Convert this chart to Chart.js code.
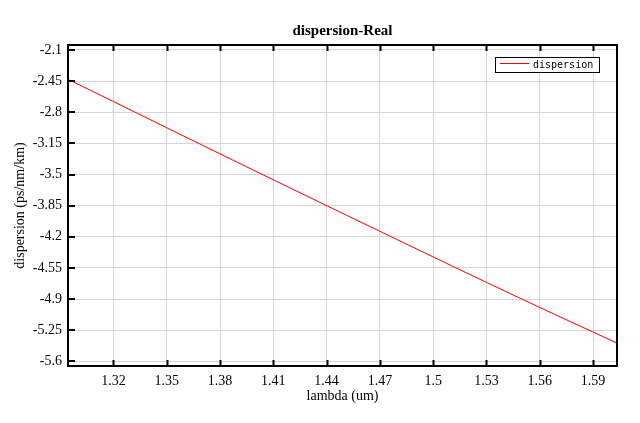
<!DOCTYPE html>
<html>
<head>
<meta charset="utf-8">
<script src="https://cdn.jsdelivr.net/npm/chart.js@4"></script>
<style>
  body { margin: 0; background: #fff; }
  #wrap { width: 640px; height: 423px; }
</style>
</head>
<body>
<div id="wrap"><canvas id="chart" width="640" height="423"></canvas></div>
<script>
// Values
const lambda = [1.2944, 1.32, 1.35, 1.38, 1.41, 1.44, 1.47, 1.50, 1.53, 1.56, 1.59, 1.6035];
const dispersion = [-2.43, -2.68, -2.975, -3.268, -3.56, -3.85, -4.139, -4.427, -4.713, -4.995, -5.272, -5.395];

const xTickLabels = ['1.32', '1.35', '1.38', '1.41', '1.44', '1.47', '1.5', '1.53', '1.56', '1.59'];
const yTickLabels = ['-2.1', '-2.45', '-2.8', '-3.15', '-3.5', '-3.85', '-4.2', '-4.55', '-4.9', '-5.25', '-5.6'];

const serif = '"Liberation Serif", "Times New Roman", serif';
const gridColor = '#d6d6d6';

// frame, inward ticks, legend box and title
const framePlugin = {
    id: 'frame',
    afterDraw(chart) {
        const ctx = chart.ctx;
        const { left, right, top, bottom } = chart.chartArea;
        const xs = chart.scales.x, ys = chart.scales.y;
        ctx.save();
        ctx.strokeStyle = '#000';
        ctx.lineWidth = 2;
        ctx.beginPath();
        xs.ticks.forEach(t => {
            const px = Math.round(xs.getPixelForValue(t.value)) + 0.5;
            ctx.moveTo(px, bottom); ctx.lineTo(px, bottom - 6);
            ctx.moveTo(px, top); ctx.lineTo(px, top + 6);
        });
        ys.ticks.forEach(t => {
            const py = Math.round(ys.getPixelForValue(t.value));
            ctx.moveTo(left, py); ctx.lineTo(left + 7, py);
        });
        ctx.stroke();
        ctx.strokeRect(left, top, right - left, bottom - top);

        // legend
        const ds = chart.data.datasets[0];
        const bx = 495.5, by = 57.5, bw = 104, bh = 15;
        ctx.fillStyle = '#fff';
        ctx.fillRect(bx, by, bw, bh);
        ctx.lineWidth = 1;
        ctx.strokeRect(bx, by, bw, bh);
        ctx.strokeStyle = ds.borderColor;
        ctx.beginPath();
        ctx.moveTo(500, 63.5); ctx.lineTo(529, 63.5);
        ctx.stroke();
        ctx.fillStyle = '#000';
        ctx.font = '10px "DejaVu Sans Mono", "Liberation Mono", monospace';
        ctx.textAlign = 'left';
        ctx.textBaseline = 'middle';
        ctx.fillText(ds.label, 533, 65);

        // title
        ctx.font = 'bold 15px ' + serif;
        ctx.textAlign = 'center';
        ctx.textBaseline = 'alphabetic';
        ctx.fillText('dispersion-Real', (left + right) / 2, 35);
        ctx.restore();
    }
};

new Chart(document.getElementById('chart'), {
    type: 'line',
    data: {
        datasets: [{
            label: 'dispersion',
            data: lambda.map((x, i) => ({ x: x, y: dispersion[i] })),
            borderColor: '#ff0000',
            borderWidth: 1,
            pointRadius: 0,
            cubicInterpolationMode: 'monotone',
            fill: false
        }]
    },
    options: {
        responsive: false,
        animation: false,
        layout: { padding: { top: 45, right: 23, bottom: 0, left: 0 } },
        plugins: {
            legend: { display: false },
            title: { display: false },
            tooltip: { enabled: false }
        },
        scales: {
            x: {
                type: 'linear',
                min: lambda[0],
                max: lambda[lambda.length - 1],
                afterBuildTicks: s => { s.ticks = xTickLabels.map(v => ({ value: parseFloat(v) })); },
                afterFit: s => { s.height = 57; },
                grid: { color: gridColor, drawTicks: false },
                border: { display: false },
                ticks: {
                    color: '#000',
                    font: { family: serif, size: 14 },
                    padding: 7,
                    maxRotation: 0,
                    autoSkip: false,
                    callback: (v, i) => xTickLabels[i]
                },
                title: {
                    display: true,
                    text: 'lambda (um)',
                    color: '#000',
                    font: { family: serif, size: 14 },
                    padding: { top: 0, bottom: 18 }
                }
            },
            y: {
                min: -5.653,
                max: -2.044,
                afterBuildTicks: s => { s.ticks = yTickLabels.map(v => ({ value: parseFloat(v) })); },
                afterFit: s => { s.width = 68; },
                grid: { color: gridColor, drawTicks: false },
                border: { display: false },
                ticks: {
                    color: '#000',
                    font: { family: serif, size: 14 },
                    padding: 6,
                    autoSkip: false,
                    callback: (v, i) => yTickLabels[i]
                },
                title: {
                    display: true,
                    text: 'dispersion (ps/nm/km)',
                    color: '#000',
                    font: { family: serif, size: 14 },
                    padding: { top: 12, bottom: 0 }
                }
            }
        }
    },
    plugins: [framePlugin]
});
</script>
</body>
</html>
